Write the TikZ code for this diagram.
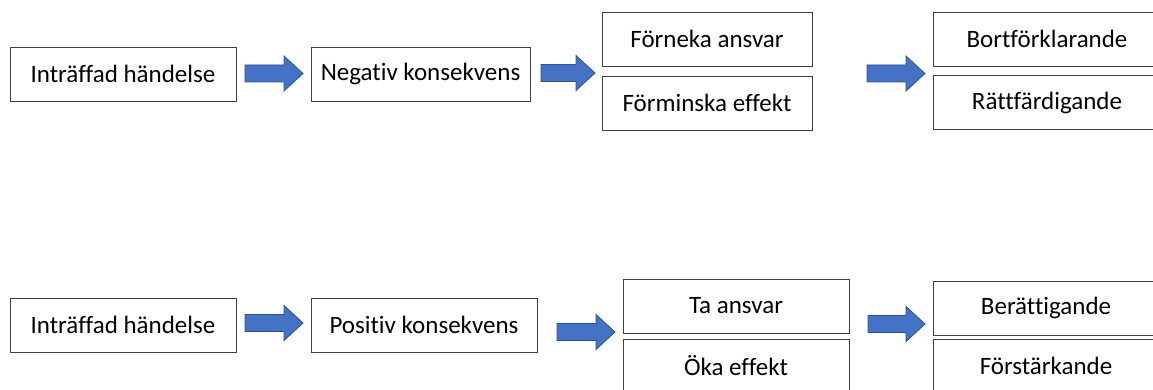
\documentclass[tikz,border=0pt]{standalone}
\usepackage{fontspec}
\setmainfont[Ligatures=NoCommon]{Carlito}
\definecolor{arrowfill}{HTML}{4472C4}
\definecolor{arrowline}{HTML}{2F528F}
\definecolor{boxline}{HTML}{404040}
\newcommand\blockarrow[3]{%
  \filldraw[arrowbody] (#1,#3-8.5) -- (#2-19,#3-8.5) -- (#2-19,#3-17.5) -- (#2,#3)
    -- (#2-19,#3+17.5) -- (#2-19,#3+8.5) -- (#1,#3+8.5) -- cycle;}
\begin{document}
\begin{tikzpicture}[x=1pt,y=-1pt,
  box/.style={draw=boxline, line width=0.9pt, minimum height=54pt, inner sep=0pt,
    font=\fontsize{25}{29}\selectfont},
  arrowbody/.style={fill=arrowfill, draw=arrowline, line width=0.8pt}]
\useasboundingbox (0,0) rectangle (1153,390);
\clip (0,0) rectangle (1153,390);
% top row
\node[box, minimum width=226pt] (a1) at (123,74) {Inträffad händelse};
\node[box, minimum width=219pt] (a2) at (420.5,74) {Negativ konsekvens};
\node[box, minimum width=210pt] (a3) at (707,39) {Förneka ansvar};
\node[box, minimum width=210pt] (a4) at (707,103) {Förminska effekt};
\node[box, minimum width=228pt] (a5) at (1047,39) {Bortförklarande};
\node[box, minimum width=228pt] (a6) at (1047,102.5) {Rättfärdigande};
\blockarrow{245}{303}{73.5}
\blockarrow{541}{595}{73}
\blockarrow{867}{925}{73.5}
% bottom row
\node[box, minimum width=226pt] (b1) at (123,325) {Inträffad händelse};
\node[box, minimum width=226pt] (b2) at (424,325) {Positiv konsekvens};
\node[box, minimum width=226pt] (b3) at (736,306) {Ta ansvar};
\node[box, minimum width=226pt] (b4) at (736,366) {Öka effekt};
\node[box, minimum width=226pt] (b5) at (1046,308) {Berättigande};
\node[box, minimum width=226pt] (b6) at (1046,366) {Förstärkande};
\blockarrow{245}{303}{323}
\blockarrow{557}{615}{332}
\blockarrow{868}{925}{324}
\end{tikzpicture}
\end{document}
